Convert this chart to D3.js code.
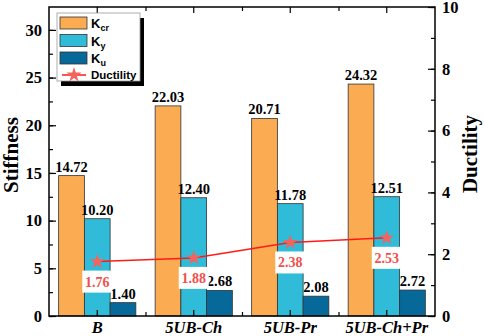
<!DOCTYPE html>
<html>
<head>
<meta charset="utf-8">
<script src="https://d3js.org/d3.v7.min.js"></script>
<style>
  body { margin: 0; background: #fff; }
  svg { display: block; }
</style>
</head>
<body>
<div id="chart"></div>
<script>
    // data
    let categories = ["B", "5UB-Ch", "5UB-Pr", "5UB-Ch+Pr"];
    let kcr = [14.72, 22.03, 20.71, 24.32];
    let ky = [10.20, 12.40, 11.78, 12.51];
    let ku = [1.40, 2.68, 2.08, 2.72];
    let ductility = [1.76, 1.88, 2.38, 2.53];
    let stiffTicks = [0, 5, 10, 15, 20, 25, 30];
    let ductTicks = [0, 2, 4, 6, 8, 10];

    let seriesNames = ["cr", "y", "u"];
    let colors = ["#fbab52", "#30bcd8", "#07689a"];

    let W = 484, H = 336;
    let margin = {top: 7, right: 49, bottom: 20, left: 49},
        width = W - margin.left - margin.right,
        height = H - margin.top - margin.bottom;

    let serif = "'Liberation Serif', 'Times New Roman', serif";
    let sans = "'Liberation Sans', Arial, sans-serif";

    let svg = d3.select("#chart").append("svg")
        .attr("width", W).attr("height", H);
    let g = svg.append("g")
        .attr("transform", "translate(" + margin.left + "," + margin.top + ")");

    let x0 = d3.scaleBand().domain(categories).range([0, width]).padding(0);
    let x1 = d3.scaleBand().domain(seriesNames)
        .range([0, x0.bandwidth() * 0.8]);
    let groupOffset = x0.bandwidth() * 0.1;
    let yL = d3.scaleLinear().domain([0, 32.4]).range([height, 0]);
    let yR = d3.scaleLinear().domain([0, 10]).range([height, 0]);

    let table = categories.map((c, i) => ({cat: c, vals: [kcr[i], ky[i], ku[i]], d: ductility[i]}));

    // bars
    let groups = g.selectAll(".grp").data(table).enter().append("g")
        .attr("transform", d => "translate(" + (x0(d.cat) + groupOffset) + ",0)");

    groups.selectAll("rect")
        .data(d => d.vals.map((v, j) => ({key: seriesNames[j], v: v, j: j})))
        .enter().append("rect")
        .attr("x", d => x1(d.key))
        .attr("y", d => yL(d.v))
        .attr("width", x1.bandwidth())
        .attr("height", d => height - yL(d.v))
        .attr("fill", d => colors[d.j])
        .attr("stroke", "#333")
        .attr("stroke-width", 0.8);

    groups.selectAll(".val")
        .data(d => d.vals.map((v, j) => ({key: seriesNames[j], v: v})))
        .enter().append("text")
        .attr("x", d => x1(d.key) + x1.bandwidth() / 2)
        .attr("y", d => yL(d.v) - 4)
        .attr("text-anchor", "middle")
        .style("font-family", serif)
        .style("font-weight", "bold")
        .style("font-size", "14.5px")
        .text(d => d.v.toFixed(2));

    // ductility line
    let cx = d => x0(d.cat) + x0.bandwidth() / 2;
    g.append("path")
        .datum(table)
        .attr("d", d3.line().x(cx).y(d => yR(d.d)))
        .attr("fill", "none")
        .attr("stroke", "#ff1a1a")
        .attr("stroke-width", 1.5);

    let star = d3.symbol().type(d3.symbolStar).size(70);
    g.selectAll(".star").data(table).enter().append("path")
        .attr("d", star)
        .attr("transform", d => "translate(" + cx(d) + "," + yR(d.d) + ")")
        .attr("fill", "#f4645c");

    // ductility value labels in white boxes
    table.forEach(d => {
        let ly = yR(d.d) + 20;
        g.append("rect")
            .attr("x", cx(d) - 15).attr("y", ly - 11)
            .attr("width", 30).attr("height", 22)
            .attr("fill", "#fff");
        g.append("text")
            .attr("x", cx(d)).attr("y", ly + 5)
            .attr("text-anchor", "middle")
            .style("font-family", serif)
            .style("font-weight", "bold")
            .style("font-size", "14px")
            .attr("fill", "#f0504c")
            .text(d.d.toFixed(2));
    });

    // axes (ticks pointing inward)
    let tickFont = sel => sel.selectAll("text")
        .style("font-family", serif).style("font-weight", "bold")
        .style("font-size", "16.5px").attr("fill", "#000");

    // left minor ticks
    g.append("g")
        .call(d3.axisLeft(yL).tickValues(d3.range(0, 32.5, 2.5)).tickSize(-4).tickFormat(""))
        .call(a => a.select(".domain").remove());
    g.append("g")
        .call(d3.axisLeft(yL).tickValues(stiffTicks).tickSize(-7).tickPadding(7))
        .call(tickFont)
        .call(a => a.select(".domain").remove());

    // right axis
    g.append("g").attr("transform", "translate(" + width + ",0)")
        .call(d3.axisRight(yR).tickValues(d3.range(0, 11, 1)).tickSize(-4).tickFormat(""))
        .call(a => a.select(".domain").remove());
    g.append("g").attr("transform", "translate(" + width + ",0)")
        .call(d3.axisRight(yR).tickValues(ductTicks).tickSize(-7).tickPadding(7))
        .call(tickFont)
        .call(a => a.select(".domain").remove());

    // bottom axis: ticks at centres and between groups
    let xTickPos = d3.scaleLinear().domain([0, 8]).range([0, width]);
    g.append("g").attr("transform", "translate(0," + height + ")")
        .call(d3.axisBottom(xTickPos).tickValues([2, 4, 6]).tickSize(-4).tickFormat(""))
        .call(a => a.select(".domain").remove());
    g.append("g").attr("transform", "translate(0," + height + ")")
        .call(d3.axisBottom(x0).tickSize(-6).tickPadding(5))
        .call(a => a.select(".domain").remove())
        .selectAll("text")
        .style("font-family", serif).style("font-weight", "bold")
        .style("font-style", "italic").style("font-size", "16.5px").attr("fill", "#000");

    // top axis mirror ticks
    g.append("g")
        .call(d3.axisTop(xTickPos).tickValues([2, 4, 6]).tickSize(-4).tickFormat(""))
        .call(a => a.select(".domain").remove());
    g.append("g")
        .call(d3.axisTop(x0).tickSize(-6).tickFormat(""))
        .call(a => a.select(".domain").remove());

    g.selectAll(".tick line").attr("stroke", "#000").attr("stroke-width", 1.2);

    // frame
    g.append("rect")
        .attr("width", width).attr("height", height)
        .attr("fill", "none").attr("stroke", "#000").attr("stroke-width", 1.5);

    // axis titles
    svg.append("text")
        .attr("transform", "translate(18,155) rotate(-90)")
        .attr("text-anchor", "middle")
        .style("font-family", serif).style("font-weight", "bold").style("font-size", "21px")
        .text("Stiffness");
    svg.append("text")
        .attr("transform", "translate(477,154) rotate(-90)")
        .attr("text-anchor", "middle")
        .style("font-family", serif).style("font-weight", "bold").style("font-size", "21px")
        .text("Ductility");

    // legend
    let leg = svg.append("g").attr("transform", "translate(57,13)");
    leg.append("rect").attr("x", 4).attr("y", 5).attr("width", 83).attr("height", 68).attr("fill", "#000");
    leg.append("rect").attr("x", 0).attr("y", 0).attr("width", 83).attr("height", 68)
        .attr("fill", "#fff").attr("stroke", "#999").attr("stroke-width", 0.8);
    seriesNames.forEach((s, i) => {
        let ry = 4 + i * 17.5;
        leg.append("rect").attr("x", 3).attr("y", ry).attr("width", 27).attr("height", 12)
            .attr("fill", colors[i]).attr("stroke", "#333").attr("stroke-width", 0.8);
        let t = leg.append("text").attr("x", 34).attr("y", ry + 11)
            .style("font-family", sans).style("font-weight", "bold").style("font-size", "13px");
        t.append("tspan").text("K");
        t.append("tspan").attr("dy", 3).style("font-size", "9px").text(s);
    });
    leg.append("line").attr("x1", 5).attr("x2", 29).attr("y1", 62).attr("y2", 62)
        .attr("stroke", "#ff1a1a").attr("stroke-width", 1.5);
    leg.append("path").attr("d", star).attr("transform", "translate(17,62)").attr("fill", "#f4645c");
    leg.append("text").attr("x", 34).attr("y", 66)
        .style("font-family", sans).style("font-weight", "bold").style("font-size", "11.5px")
        .text("Ductility");
</script>
</body>
</html>
